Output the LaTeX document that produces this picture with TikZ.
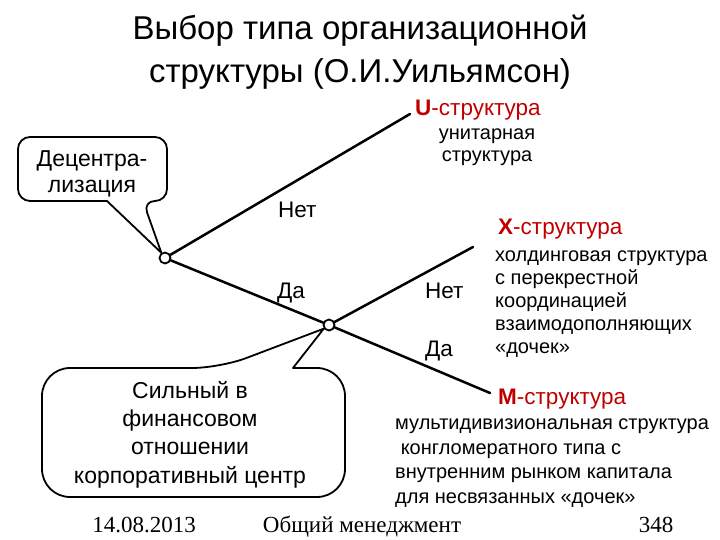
\documentclass[tikz,border=0pt]{standalone}
\usepackage{fontspec}
\setmainfont{Liberation Sans}
\newfontfamily\footfont{Liberation Serif}
\definecolor{structred}{RGB}{192,0,0}
\tikzset{
  branch/.style={line width=2.5pt},
  fork/.style={circle, draw, line width=1.8pt, fill=white, minimum size=11pt, inner sep=0pt},
  callout/.style={line width=1.8pt, fill=white},
  answer/.style={font=\fontsize{22.5}{27}\selectfont, anchor=base west, inner sep=0pt},
  bubble/.style={align=center, anchor=base, inner sep=0pt},
  sname/.style={font=\fontsize{22.5}{27}\selectfont, text=structred, anchor=base west, inner sep=0pt},
  sdesc/.style={anchor=base west, align=left, inner sep=0pt},
  footer/.style={font=\footfont\fontsize{23}{27}\selectfont, anchor=base, inner sep=0pt}
}
\begin{document}
\begin{tikzpicture}[x=1pt, y=-1pt, line join=round, line cap=round]
	\useasboundingbox (0,0) rectangle (720,540);
	% title
	\node[font=\fontsize{33}{43}\selectfont, align=center, anchor=base] (title) at (360,83)
		{Выбор типа организационной\\структуры (О.И.Уильямсон)};
	% decision points and branch ends
	\node[fork] (n1) at (165,258) {};
	\node[fork] (n2) at (329,325) {};
	\coordinate (uend) at (410,114);
	\coordinate (xend) at (473,247);
	\coordinate (mend) at (490,393);
	% callouts
	\draw[callout] (107,201) [rounded corners=12pt] -- (18,201) -- (18,137) -- (167,137) -- (167,201)
		-- (143,201) [sharp corners] -- (n1.125) -- cycle;
	\node[bubble, font=\fontsize{23}{26.5}\selectfont] (decentr) at (92,193) {Децентра-\\лизация};
	\draw[callout] (293,368) [rounded corners=28pt] -- (345,368) -- (345,497) -- (42,497) -- (42,368)
		-- (220,368) [sharp corners] -- (n2.215) -- cycle;
	\node[bubble, font=\fontsize{23}{28.3}\selectfont] (strong) at (190,483)
		{Сильный в\\финансовом\\отношении\\корпоративный центр};
	% branches
	\draw[branch] (n1) -- (uend);
	\draw[branch] (n1) -- (n2);
	\draw[branch] (n2) -- (xend);
	\draw[branch] (n2) -- (mend);
	\node[answer] (no1) at (278,218) {Нет};
	\node[answer] (yes1) at (277,298) {Да};
	\node[answer] (no2) at (425,298) {Нет};
	\node[answer] (yes2) at (425,356) {Да};
	% structures
	\node[sname] (u) at (415,116) {\textbf{U}-структура};
	\node[sdesc, align=center, anchor=base, font=\fontsize{20}{22}\selectfont] (udesc) at (487,162)
		{унитарная\\структура};
	\node[sname] (x) at (498,234) {\textbf{X}-структура};
	\node[sdesc, font=\fontsize{20}{22.8}\selectfont] (xdesc) at (495,353)
		{холдинговая структура\\с перекрестной\\координацией\\взаимодополняющих\\«дочек»};
	\node[sname] (m) at (498,404) {\textbf{M}-структура};
	\node[sdesc, font=\fontsize{20}{24.4}\selectfont] (mdesc) at (395,503)
		{мультидивизиональная структура\\\ конгломератного типа с\\внутренним рынком капитала\\для несвязанных «дочек»};
	% footer
	\node[footer] (date) at (144,532) {14.08.2013};
	\node[footer] (course) at (362,532) {Общий менеджмент};
	\node[footer] (page) at (656,532) {348};
\end{tikzpicture}
\end{document}
